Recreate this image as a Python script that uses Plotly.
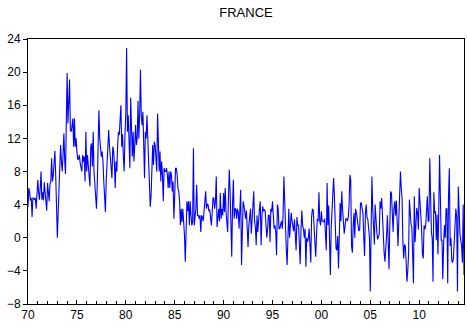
import plotly.graph_objects as go

# Monthly series, France, January 1970 onwards (one row per year)
start_year = 1970

france_1970s = [
    3.7, 6.0, 5.5, 4.5, 4.8, 2.5, 4.8, 4.8, 4.6, 4.8, 3.5, 4.8,
    7.0, 5.5, 4.6, 6.0, 8.0, 4.6, 5.5, 4.5, 6.7, 5.5, 4.5, 3.3,
    6.6, 5.5, 4.4, 6.5, 6.8, 9.6, 6.8, 7.5, 9.6, 10.5, 7.5, 3.5,
    0.0, 3.0, 6.4, 9.0, 11.2, 9.2, 8.0, 10.0, 12.6, 9.5, 7.7, 14.0,
    19.9, 13.8, 17.0, 19.1, 13.0, 12.8, 13.5, 14.4, 11.0, 14.4, 11.0, 12.0,
    10.4, 9.5, 9.5, 10.0, 9.0, 8.6, 8.0, 10.0, 9.2, 9.8, 6.8, 12.8,
    8.0, 10.0, 9.0, 7.5, 6.2, 11.0, 11.4, 8.6, 12.8, 8.0, 6.5, 5.5,
    3.5, 6.5, 12.0, 15.4, 12.0, 10.0, 9.8, 10.4, 9.2, 6.8, 4.6, 3.1,
    7.0, 9.0, 10.4, 13.0, 11.0, 9.2, 8.0, 7.2, 11.0, 10.6, 9.0, 6.0,
    9.2, 8.0, 11.2, 12.8, 12.4, 14.0, 16.0, 11.0, 12.5, 9.8, 8.0, 12.5,
]
france_1980s = [
    15.0, 22.9, 12.8, 14.8, 11.2, 8.4, 16.9, 13.6, 9.8, 12.8, 9.2, 11.2,
    13.6, 11.2, 12.0, 16.5, 12.0, 14.8, 20.3, 14.8, 13.6, 15.2, 10.0, 7.2,
    12.8, 12.0, 14.8, 11.2, 8.4, 6.0, 3.75, 5.0, 8.0, 11.2, 8.8, 11.6,
    11.2, 8.4, 8.0, 15.0, 11.2, 8.0, 10.4, 6.8, 9.2, 7.6, 4.4, 8.4,
    8.0, 8.0, 8.4, 7.6, 6.0, 8.0, 6.0, 8.0, 7.6, 5.6, 6.8, 2.3,
    5.0, 8.4, 8.4, 7.6, 6.0, 5.6, 4.4, 1.5, 3.5, 1.9, 3.5, 1.9,
    0.3, -2.9, 1.1, 4.4, 3.2, 4.4, 1.5, 4.4, 2.7, 1.5, 1.9, 10.8,
    1.5, 2.7, 3.5, 6.4, 2.7, 2.7, 2.3, 2.7, 0.7, 2.7, 2.5, 2.0,
    3.5, 4.4, 5.6, 3.5, 4.1, 4.0, 3.2, 3.4, 2.7, 1.5, 3.0, 4.8,
    4.8, 3.5, 4.4, 7.4, 1.3, 2.3, 3.5, 2.0, 5.4, 2.3, 3.5, 2.7,
]
france_1990s = [
    5.4, 3.1, 6.0, 3.1, 1.1, 0.7, 5.0, 8.2, 5.6, 2.0, -2.3, 4.0,
    7.0, 2.3, 3.5, 3.5, 2.3, 3.5, 3.1, 1.1, 5.2, 5.8, -3.3, 1.9,
    4.4, 3.9, 3.2, 2.3, 3.3, 0.5, -1.1, 1.5, 3.3, 3.5, 0.5, 2.7,
    4.4, 5.6, 2.0, 1.3, -0.9, 2.7, 0.7, 2.7, 3.5, 4.4, -0.9, 2.5,
    3.8, 3.2, 3.4, 3.2, 0.5, 0.0, 1.1, 2.7, 2.7, -0.5, 3.5, 3.1,
    4.4, 2.3, 1.1, 1.5, 0.7, -2.1, 4.0, 3.5, 1.1, 1.1, 1.5, 2.0,
    1.1, 2.7, 7.4, 3.5, 0.5, -1.5, -3.3, 0.0, 3.5, 0.0, 1.1, 3.0,
    2.0, 1.5, 0.8, 2.2, -0.5, -1.5, 2.5, 1.5, 1.5, -0.2, -3.2, 1.1,
    3.3, 1.5, 1.0, 0.0, 1.1, -3.5, 0.0, -0.5, 0.0, 1.1, -1.5, -3.0,
    2.5, 3.5, 3.3, 0.8, -0.1, -2.3, 0.2, 2.3, 2.0, 5.5, 2.0, 1.5,
]
france_2000s = [
    3.2, 2.0, 2.0, 1.9, 2.3, -0.5, -1.5, 6.6, 1.5, 3.9, 1.0, -4.5,
    1.1, 3.5, 6.0, 7.2, 5.0, 1.1, -1.3, -1.5, 0.2, -3.7, 1.4, 4.2,
    2.0, 5.6, 3.5, 1.2, 0.5, 1.4, 2.3, 2.3, 2.0, 2.5, 4.0, 7.6,
    7.0, -1.0, -1.8, 1.5, 3.0, 0.0, 3.5, 3.0, 1.9, 1.5, 0.8, 1.0,
    4.2, 4.2, 3.5, 3.0, 0.0, -2.2, 3.0, 4.0, 2.5, 2.2, 1.1, 0.0,
    -6.5, 5.0, 7.4, 3.5, 1.0, -0.8, 4.0, 1.2, 0.7, -0.2, 0.0, 0.4,
    4.4, 3.5, 4.8, 2.0, 0.4, -1.8, -2.9, 0.0, 0.3, 2.7, -0.5, -3.8,
    1.5, 5.6, 5.4, 2.4, 0.7, 3.5, 4.4, 2.7, 4.5, 2.0, -1.0, 2.0,
    5.5, 8.0, 6.0, 4.8, -0.5, -2.5, -0.8, -1.0, -2.9, -5.3, -4.0, -2.0,
    4.6, 2.0, 1.6, 1.3, -2.5, -5.5, 5.0, -0.5, 1.6, 3.6, 3.0, 1.0,
]
france_2010s = [
    6.0, 4.6, 2.3, 1.0, -2.0, -2.5, 1.5, 1.0, 1.5, 3.2, 5.0, 2.0,
    2.0, 9.6, 3.5, 0.7, -0.1, -5.3, 5.5, 3.0, 3.2, -0.3, 2.8, -2.0,
    3.0, 10.0, 5.0, -0.3, -0.3, -5.0, -0.8, 1.5, 0.0, 3.5, 3.5, -5.5,
    5.0, 8.4, -1.0, 0.0, -2.8, -3.0, -2.5, 0.3, 3.0, 3.5, 2.5, -6.5,
    6.2, 3.0, 0.5, -0.3, -1.0, -3.0, 4.0, -4.5,
]

tick_years = [1970, 1975, 1980, 1985, 1990, 1995, 2000, 2005, 2010]
tick_labels = ["70", "75", "80", "85", "90", "95", "00", "05", "10"]
y_ticks = [-8, -4, 0, 4, 8, 12, 16, 20, 24]

values = france_1970s + france_1980s + france_1990s + france_2000s + france_2010s
# decimal year of each monthly observation
t = [start_year + i / 12 for i in range(len(values))]

fig = go.Figure(
    go.Scatter(
        x=t, y=values, mode="lines",
        line=dict(color="#0000FF", width=1.1),
        hoverinfo="skip",
    )
)

axis_font = dict(family="Liberation Sans, Arial, sans-serif", size=12, color="#000000")

fig.update_layout(
    width=467, height=327,
    margin=dict(l=28, r=3, t=39, b=23),
    paper_bgcolor="white", plot_bgcolor="white",
    showlegend=False,
    title=dict(
        text="FRANCE", x=0.5, xref="paper", xanchor="center",
        y=1 - 12 / 327, yref="container", yanchor="middle",
        font=dict(family="Liberation Sans, Arial, sans-serif", size=13, color="#000000"),
    ),
    xaxis=dict(
        range=[t[0], t[-1]],
        tickmode="array", tickvals=tick_years, ticktext=tick_labels,
        ticks="inside", ticklen=4, tickcolor="#000000", tickwidth=1,
        minor=dict(dtick=1, tick0=start_year, ticks="inside", ticklen=3,
                   tickcolor="#000000", tickwidth=1, showgrid=False),
        showgrid=False, zeroline=False,
        showline=True, linecolor="#000000", linewidth=1, mirror=True,
        tickfont=axis_font,
    ),
    yaxis=dict(
        range=[-8, 24],
        tickmode="array", tickvals=y_ticks,
        ticks="outside", ticklen=4, tickcolor="#000000", tickwidth=1,
        showgrid=False, zeroline=False,
        showline=True, linecolor="#000000", linewidth=1, mirror=True,
        tickfont=axis_font,
    ),
)

fig.write_html("out.html")
